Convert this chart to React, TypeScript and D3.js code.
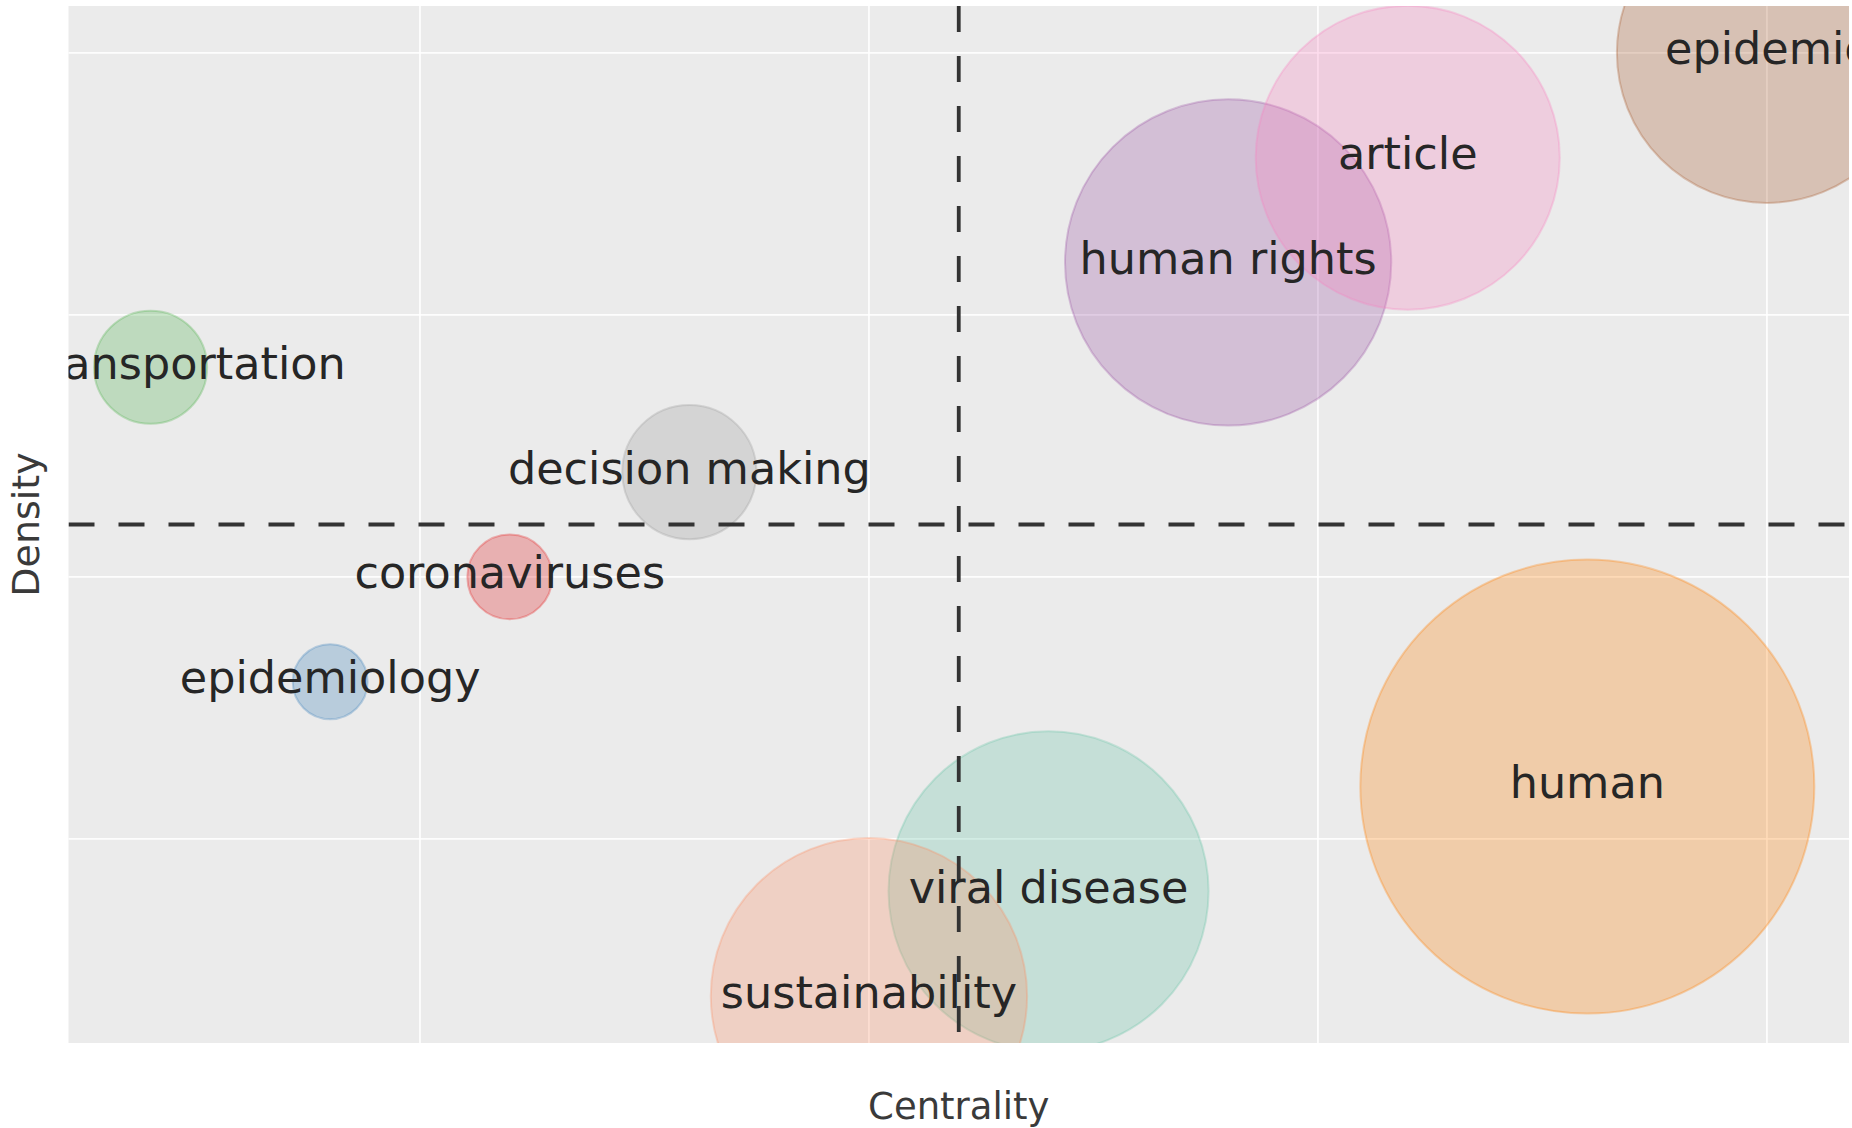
import React from "react";
import * as d3 from "d3";

// thematic map clusters (bibliometrix style, rank based)
const themes = [
  "coronaviruses",
  "epidemiology",
  "air transportation",
  "human rights",
  "human",
  "epidemic",
  "article",
  "decision making",
  "viral disease",
  "sustainability",
];
const centralityRank = [3, 2, 1, 7, 9, 10, 8, 4, 6, 5];
const densityRank = [5, 4, 7, 8, 3, 10, 9, 6, 2, 1];
const frequency = [18, 14, 32, 266, 515, 225, 231, 45, 256, 250];
const clusterColors = [
  "#E41A1C",
  "#377EB8",
  "#4DAF4A",
  "#984EA3",
  "#FF7F00",
  "#A65628",
  "#F781BF",
  "#999999",
  "#66C2A5",
  "#FC8D62",
];
const gridTicks = [2.5, 5, 7.5, 10];
const xDomain = [0.543, 10.457];
const yDomain = [0.553, 10.447];

const W = 1852;
const H = 1128;
const plot = { left: 68.5, top: 6, right: 1849, bottom: 1043 };
const FONT = "'DejaVu Sans', Verdana, sans-serif";

const App = () => {
  const x = d3.scaleLinear().domain(xDomain).range([plot.left, plot.right]);
  const y = d3.scaleLinear().domain(yDomain).range([plot.bottom, plot.top]);
  const r = d3.scaleSqrt().domain([0, d3.max(frequency)]).range([0, 227]);

  const xMid = d3.mean(centralityRank);
  const yMid = d3.mean(densityRank);

  const data = themes.map((name, i) => ({
    name,
    cx: x(centralityRank[i]),
    cy: y(densityRank[i]),
    r: r(frequency[i]),
    color: clusterColors[i],
  }));

  const pw = plot.right - plot.left;
  const ph = plot.bottom - plot.top;

  return (
    <svg
      width={W}
      height={H}
      style={{ position: "absolute", left: 0, top: 0, background: "#fff" }}
    >
      <defs>
        <clipPath id="plotClip">
          <rect x={plot.left} y={plot.top} width={pw} height={ph} />
        </clipPath>
      </defs>

      <rect x={plot.left} y={plot.top} width={pw} height={ph} fill="#EBEBEB" />

      {/* grid */}
      <g stroke="#fff" strokeWidth={1.8} strokeOpacity={0.9}>
        {gridTicks.map((t) => (
          <line key={"gx" + t} x1={x(t)} x2={x(t)} y1={plot.top} y2={plot.bottom} />
        ))}
        {gridTicks.map((t) => (
          <line key={"gy" + t} x1={plot.left} x2={plot.right} y1={y(t)} y2={y(t)} />
        ))}
      </g>

      <g clipPath="url(#plotClip)">
        {data.map((d) => (
          <circle
            key={d.name}
            cx={d.cx}
            cy={d.cy}
            r={d.r}
            fill={d.color}
            fillOpacity={0.28}
            stroke={d.color}
            strokeOpacity={0.3}
            strokeWidth={2}
          />
        ))}

        {/* median reference lines */}
        <g stroke="#333" strokeWidth={3.8} strokeDasharray="26,24">
          <line x1={x(xMid)} x2={x(xMid)} y1={plot.top} y2={plot.bottom} />
          <line x1={plot.left} x2={plot.right} y1={y(yMid)} y2={y(yMid)} />
        </g>

        {data.map((d) => (
          <text
            key={"t" + d.name}
            x={d.cx}
            y={d.cy}
            dy={-4}
            textAnchor="middle"
            dominantBaseline="central"
            fontFamily={FONT}
            fontSize={44.5}
            fill="#262626"
          >
            {d.name}
          </text>
        ))}
      </g>

      <text
        x={(plot.left + plot.right) / 2}
        y={1106}
        textAnchor="middle"
        dominantBaseline="central"
        fontFamily={FONT}
        fontSize={37}
        fill="#3a3a3a"
      >
        Centrality
      </text>
      <text
        transform={`translate(26,${(plot.top + plot.bottom) / 2}) rotate(-90)`}
        textAnchor="middle"
        dominantBaseline="central"
        fontFamily={FONT}
        fontSize={38}
        fill="#3a3a3a"
      >
        Density
      </text>
    </svg>
  );
};

export default App;
